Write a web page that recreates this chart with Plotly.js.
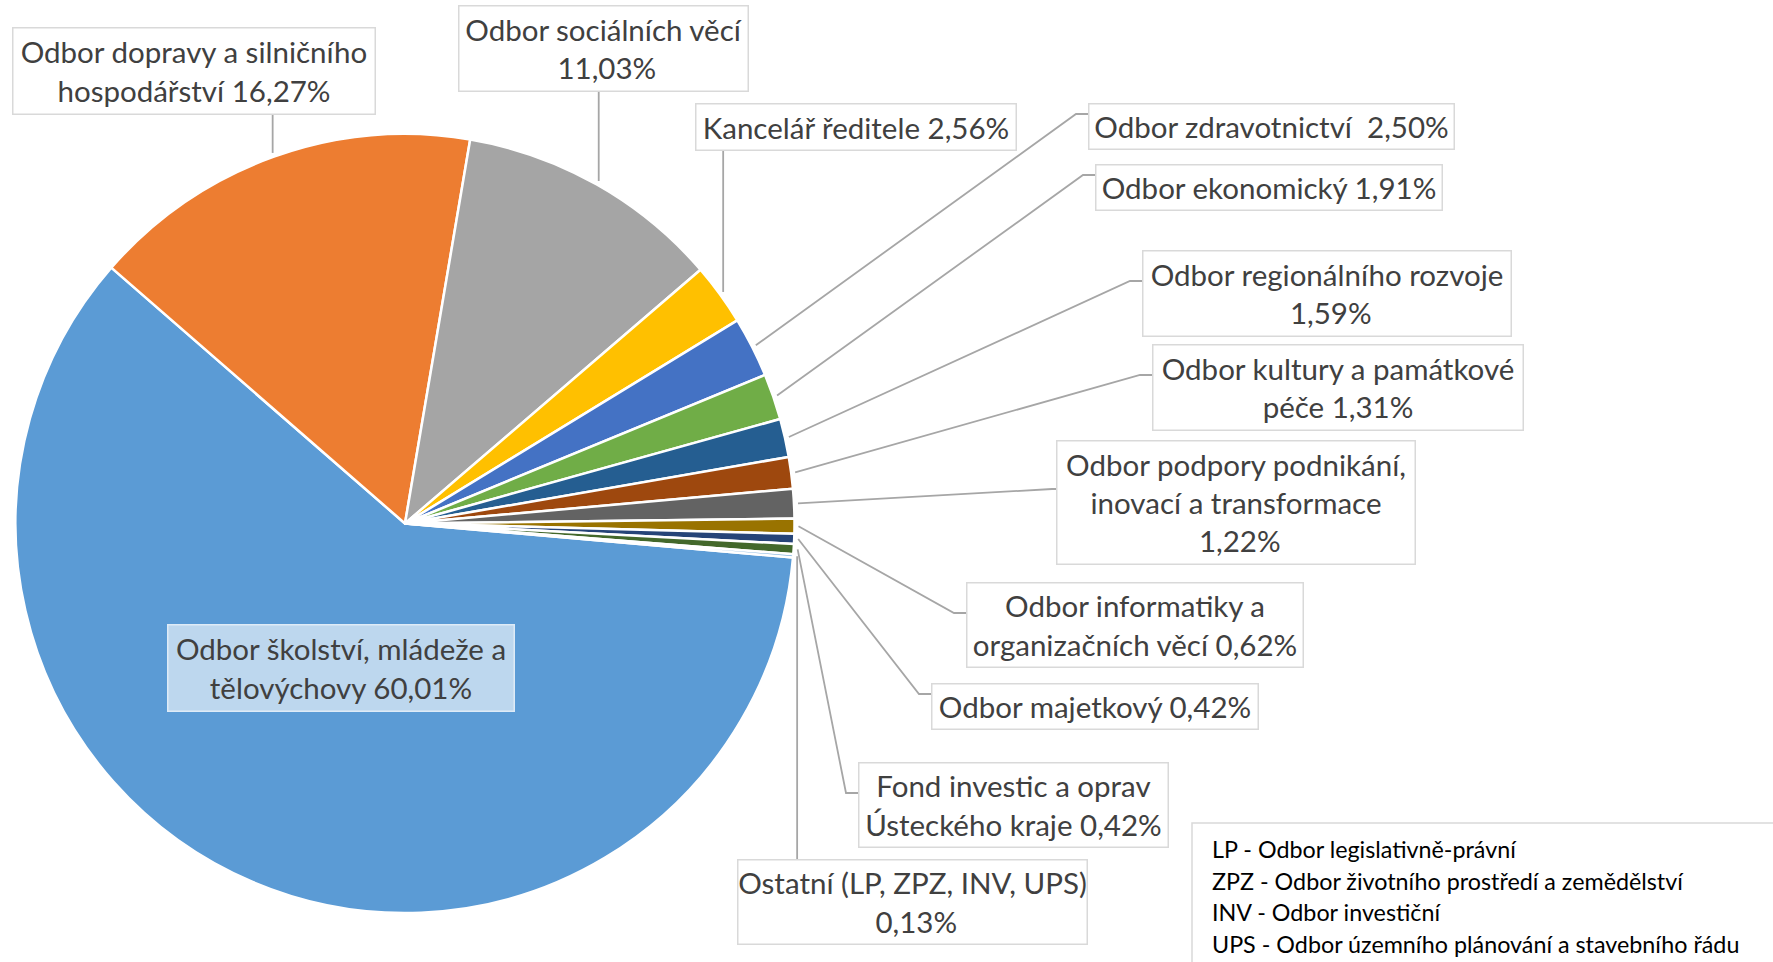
<!DOCTYPE html>
<html>
<head>
<meta charset="utf-8">
<script src="https://cdn.plot.ly/plotly-3.0.1.min.js"></script>
<style>html,body{margin:0;padding:0;background:#fff;}#chart{width:1773px;height:962px;}</style>
</head>
<body>
<div id="chart"></div>
<script>
// ---- data ----
const categories = [
  "Odbor školství, mládeže a tělovýchovy",
  "Odbor dopravy a silničního hospodářství",
  "Odbor sociálních věcí",
  "Kancelář ředitele",
  "Odbor zdravotnictví",
  "Odbor ekonomický",
  "Odbor regionálního rozvoje",
  "Odbor kultury a památkové péče",
  "Odbor podpory podnikání, inovací a transformace",
  "Odbor informatiky a organizačních věcí",
  "Odbor majetkový",
  "Fond investic a oprav Ústeckého kraje",
  "Ostatní (LP, ZPZ, INV, UPS)"
];
const shares = [60.01, 16.27, 11.03, 2.56, 2.50, 1.91, 1.59, 1.31, 1.22, 0.62, 0.42, 0.42, 0.13];
// label text as shown (line breaks), value appended
const labelNames = [
  "Odbor školství, mládeže a<br>tělovýchovy",
  "Odbor dopravy a silničního<br>hospodářství",
  "Odbor sociálních věcí<br>",
  "Kancelář ředitele",
  "Odbor zdravotnictví\u00a0",
  "Odbor ekonomický",
  "Odbor regionálního rozvoje<br>",
  "Odbor kultury a památkové<br>péče",
  "Odbor podpory podnikání,<br>inovací a transformace<br>",
  "Odbor informatiky a<br>organizačních věcí",
  "Odbor majetkový",
  "Fond investic a oprav<br>Ústeckého kraje",
  "Ostatní (LP, ZPZ, INV, UPS)<br>"
];
const noteLines = [
  "LP - Odbor legislativně-právní",
  "ZPZ - Odbor životního prostředí a zemědělství",
  "INV - Odbor investiční",
  "UPS - Odbor územního plánování a stavebního řádu"
];

// ---- styles / layout ----
const sliceColors = ["#5B9BD5","#ED7D31","#A5A5A5","#FFC000","#4472C4","#70AD47",
  "#255E91","#9E480E","#636363","#997300","#264478","#43682B","#7CAFDD"];
const W = 1773, H = 962;
const CX = 405, CY = 523.5, R = 389.5;
const ROT = 95;
// box geometry in pixels: [x0, y0, x1, y1, connector, attach offset]
const boxes = [
  [167,624,515,712,'none',0],
  [12,27,376,115,'bottom',0],
  [458,5,749,92,'bottom',0],
  [695,103,1017,151,'bottom',0],
  [1088,103,1455,150,'left',11],
  [1095,164,1443,211,'left',11],
  [1142,250,1512,337,'left',31],
  [1152,344,1524,431,'left',31],
  [1056,440,1416,565,'left',49],
  [966,582,1304,668,'left',31],
  [931,683,1259,730,'left',11],
  [858,762,1169,848,'left',31],
  [737,859,1088,945,'top',0]
];
const FONT = "Lato, 'Open Sans', sans-serif";
const TXT = "#404040";
const px = x => x / W;
const py = y => 1 - y / H;

const trace = {
  type: 'pie',
  labels: categories,
  values: shares,
  sort: false,
  direction: 'clockwise',
  rotation: ROT,
  textinfo: 'none',
  hoverinfo: 'label+percent',
  marker: {colors: sliceColors, line: {color: '#FFFFFF', width: 2.5}},
  domain: {x: [px(CX - R), px(CX + R)], y: [py(CY + R), py(CY - R)]},
  showlegend: false
};

const total = shares.reduce((a, b) => a + b, 0);
let acc = 0;
const shapes = [], annotations = [];
shares.forEach((v, i) => {
  const mid = (ROT + (acc + v / 2) / total * 360) * Math.PI / 180;
  acc += v;
  const b = boxes[i];
  const sx = CX + (R + 4) * Math.sin(mid), sy = CY - (R + 4) * Math.cos(mid);
  let path = null;
  if (b[4] === 'bottom') path = `M${px(sx)},${py(sy)} L${px(sx)},${py(b[3])}`;
  else if (b[4] === 'top') path = `M${px(sx)},${py(sy)} L${px(sx)},${py(b[1])}`;
  else if (b[4] === 'left') {
    const ay = b[1] + b[5];
    const ex = b[0] - (i === 8 ? 4 : 12);
    path = `M${px(sx)},${py(sy)} L${px(ex)},${py(ay)} L${px(b[0])},${py(ay)}`;
  }
  if (path) shapes.push({type: 'path', xref: 'paper', yref: 'paper', path: path,
    line: {color: '#A6A6A6', width: 1.8}});
  const inside = b[4] === 'none';
  const bw = 1.5;
  annotations.push({
    xref: 'paper', yref: 'paper', x: px(b[0]), y: py(b[1]),
    xanchor: 'left', yanchor: 'top', showarrow: false,
    width: (b[2] - b[0]) - 2 * bw, height: (b[3] - b[1]) - 2 * bw,
    borderpad: 0, borderwidth: bw,
    bordercolor: inside ? '#DEEBF7' : '#D9D9D9',
    bgcolor: inside ? '#BDD7EE' : '#FFFFFF',
    align: 'center', valign: 'middle',
    text: labelNames[i] + ' ' + v.toFixed(2).replace('.', ',') + '%',
    font: {family: FONT, size: 29.5, color: TXT}
  });
});

// note box
shapes.push({type: 'rect', xref: 'paper', yref: 'paper',
  x0: px(1192), x1: px(1800), y0: py(823), y1: py(1000),
  line: {color: '#D9D9D9', width: 1.5}, fillcolor: 'rgba(0,0,0,0)'});
noteLines.forEach((t, k) => {
  annotations.push({xref: 'paper', yref: 'paper', x: px(1211), y: py(849 + k * 31.5),
    xanchor: 'left', yanchor: 'middle', showarrow: false, text: t,
    font: {family: FONT, size: 23.3, color: '#000000'}, borderpad: 0});
});

const layout = {
  width: W, height: H,
  margin: {l: 0, r: 0, t: 0, b: 0},
  paper_bgcolor: '#FFFFFF', plot_bgcolor: '#FFFFFF',
  shapes: shapes, annotations: annotations,
  showlegend: false
};
Plotly.newPlot('chart', [trace], layout, {displayModeBar: false, responsive: false});
</script>
</body>
</html>
